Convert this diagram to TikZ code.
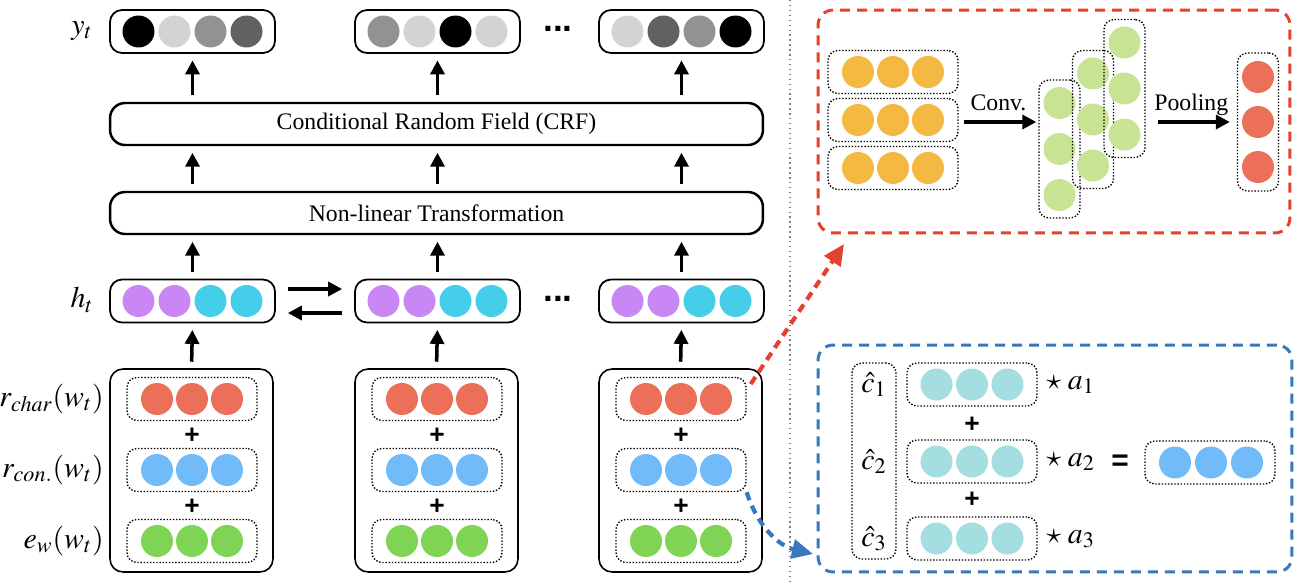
\documentclass[tikz,border=0pt]{standalone}
\usepackage{mathptmx}
\usepackage{fontspec}
\setmainfont{Liberation Serif}
\newfontfamily\plusfont{Liberation Sans}
\usetikzlibrary{arrows.meta,calc,positioning}

\definecolor{outDark}{HTML}{616161}
\definecolor{outMid}{HTML}{929292}
\definecolor{outLight}{HTML}{D3D3D3}
\definecolor{hidFwd}{HTML}{C987F5}
\definecolor{hidBwd}{HTML}{45CEEA}
\definecolor{charRed}{HTML}{EC6F5A}
\definecolor{conBlue}{HTML}{70BBF8}
\definecolor{embGreen}{HTML}{80D455}
\definecolor{convIn}{HTML}{F4B942}
\definecolor{convOut}{HTML}{C8E394}
\definecolor{ctxTeal}{HTML}{A4DEE0}
\definecolor{linkRed}{HTML}{E4412F}
\definecolor{linkBlue}{HTML}{3A77BC}

\tikzset{
  neuron/.style={circle,minimum size=0.64cm,inner sep=0pt},
  vecbox/.style={draw,line width=1pt,rounded corners=0.24cm,minimum width=3.3cm,minimum height=0.86cm,inner sep=0pt},
  layerbox/.style={draw,line width=1.4pt,rounded corners=0.3cm,minimum width=13.06cm,minimum height=0.84cm,inner sep=0pt,font=\fontsize{13.5}{16}\selectfont},
  inbox/.style={draw,line width=0.9pt,rounded corners=0.26cm,minimum width=3.26cm,minimum height=4.06cm,inner sep=0pt},
  rowbox/.style={draw,densely dotted,line width=0.8pt,rounded corners=0.2cm,minimum width=2.6cm,minimum height=0.86cm,inner sep=0pt},
  colbox/.style={rowbox,minimum width=0.82cm,minimum height=2.76cm},
  lbl/.style={inner sep=0pt,font=\fontsize{17}{20}\selectfont},
  txt/.style={inner sep=0pt,text depth=0pt,font=\fontsize{13.5}{16}\selectfont},
  plussign/.style={inner sep=0pt,font=\plusfont\bfseries\fontsize{15}{15}\selectfont},
  dotsign/.style={inner sep=0pt,font=\plusfont\bfseries\fontsize{20}{20}\selectfont},
  uparrow/.style={-{Triangle[length=0.28cm,width=0.28cm]},line width=2pt,shorten <=0.13cm,shorten >=0.13cm},
  flowarrow/.style={-{Triangle[length=0.28cm,width=0.28cm]},line width=2pt},
  dashbox/.style={draw,line width=1.7pt,dash pattern=on 0.2cm off 0.14cm,rounded corners=0.3cm,inner sep=0pt},
  linkarrow/.style={-{Triangle[length=0.42cm,width=0.38cm]},line width=2.4pt,dash pattern=on 0.17cm off 0.12cm},
}

\begin{document}
\begin{tikzpicture}[x=0.02cm,y=-0.02cm]
\useasboundingbox (0,0) rectangle (1301,585);

% left panel: one column per word
\foreach \c/\dx/\ca/\cb/\cc/\cd in {1/0/black/outLight/outMid/outDark,2/245/outMid/outLight/black/outLight,3/489/outLight/outDark/outMid/black}{
  \node[vecbox] (y\c) at (192.5+\dx,31.5) {};
  \foreach \i/\col in {1/\ca,2/\cb,3/\cc,4/\cd}
    \node[neuron,fill=\col] (y\c-\i) at ($(y\c)+(-90+36*\i,0)$) {};
  \node[vecbox] (h\c) at (192.5+\dx,301) {};
  \foreach \i/\col in {1/hidFwd,2/hidFwd,3/hidBwd,4/hidBwd}
    \node[neuron,fill=\col] (h\c-\i) at ($(h\c)+(-90+36*\i,0)$) {};
  \node[inbox] (in\c) at (191.5+\dx,470.5) {};
  \node[rowbox] (char\c) at (192+\dx,399) {};
  \node[rowbox] (con\c) at (192+\dx,470) {};
  \node[rowbox] (emb\c) at (192+\dx,541) {};
  \foreach \i in {1,2,3}{
    \node[neuron,fill=charRed] (char\c-\i) at ($(char\c)+(-70+35*\i,0)$) {};
    \node[neuron,fill=conBlue] (con\c-\i) at ($(con\c)+(-70+35*\i,0)$) {};
    \node[neuron,fill=embGreen] (emb\c-\i) at ($(emb\c)+(-70+35*\i,0)$) {};
  }
  \node[plussign] (pa\c) at (192+\dx,436) {+};
  \node[plussign] (pb\c) at (192+\dx,507) {+};
}

\node[layerbox] (crf) at (436.5,124) {Conditional Random Field (CRF)};
\node[layerbox] (nlt) at (436.5,213) {Non-linear Transformation};

\foreach \c in {1,2,3}{
  \draw[uparrow] (y\c.south |- crf.north) -- (y\c.south);
  \draw[uparrow] (y\c.south |- nlt.north) -- (y\c.south |- crf.south);
  \draw[uparrow] (h\c.north) -- (h\c.north |- nlt.south);
  \draw[uparrow] (in\c.north) -- (h\c.south);
}

% bidirectional recurrence
\draw[flowarrow,shorten <=0.24cm,shorten >=0.24cm] ($(h1.east)+(0,-12)$) -- ($(h2.west)+(0,-12)$);
\draw[flowarrow,shorten <=0.24cm,shorten >=0.24cm] ($(h2.west)+(0,12)$) -- ($(h1.east)+(0,12)$);

\node[dotsign] (dotsY) at (558,29) {...};
\node[dotsign] (dotsH) at (558,299) {...};

\node[lbl] (ylab) at (82,31) {$y_t$};
\node[lbl] (hlab) at (82,300) {$h_t$};
\node[lbl,anchor=east] (charlab) at (104,399) {$r_{char}(w_t)$};
\node[lbl,anchor=east] (conlab) at (104,470) {$r_{con.}(w_t)$};
\node[lbl,anchor=east] (emblab) at (104,541) {$e_w(w_t)$};

\draw[gray,dotted,line width=0.8pt] (790,0) -- (790,585);

% character CNN
\node[dashbox,draw=linkRed,minimum width=9.44cm,minimum height=4.46cm] (cnn) at (1054,121.5) {};
\foreach \r/\yy in {1/72,2/120,3/168}{
  \node[rowbox] (chv\r) at (893,\yy) {};
  \foreach \i in {1,2,3}
    \node[neuron,fill=convIn] (chv\r-\i) at ($(chv\r)+(-70+35*\i,0)$) {};
}
\foreach \k/\xx/\yy in {A/1059.5/149,B/1093/119.5,C/1124.5/88.5}{
  \node[colbox] (fm\k) at (\xx,\yy) {};
  \foreach \i in {1,2,3}
    \node[neuron,fill=convOut] (fm\k-\i) at ($(fm\k)+(0,-92+46*\i)$) {};
}
\node[colbox] (pool) at (1258,122) {};
\foreach \i in {1,2,3}
  \node[neuron,fill=charRed] (pool-\i) at ($(pool)+(0,-90+45*\i)$) {};
\draw[flowarrow,shorten <=0.1cm,shorten >=0.04cm] (chv2.east |- pool.west) -- (fmA.west |- pool.west)
  node[txt,midway,above=0.2cm] (convlab) {Conv.};
\draw[flowarrow,shorten <=0.24cm,shorten >=0.14cm] (fmC.east |- pool.west) -- (pool.west)
  node[txt,midway,above=0.2cm] (poollab) {Pooling};

% context attention
\node[dashbox,draw=linkBlue,minimum width=9.48cm,minimum height=4.54cm] (att) at (1055,458.5) {};
\node[colbox,minimum width=0.88cm,minimum height=3.92cm] (chat) at (874,461) {};
\foreach \r/\yy in {1/384.5,2/461.5,3/538.5}{
  \node[lbl] (chat\r) at (874,\yy) {$\hat{c}_\r$};
  \node[rowbox] (ctx\r) at (972,\yy) {};
  \foreach \i in {1,2,3}
    \node[neuron,fill=ctxTeal] (ctx\r-\i) at ($(ctx\r)+(-71+35.5*\i,0)$) {};
  \node[lbl,anchor=west] (wt\r) at (1046,\yy) {$\star\;a_\r$};
}
\node[plussign] (pc1) at (972,425) {+};
\node[plussign] (pc2) at (972,500) {+};
\node[plussign,font=\plusfont\bfseries\fontsize{17}{17}\selectfont] (eq) at (1120,463) {=};
\node[rowbox] (res) at (1210,462.5) {};
\foreach \i in {1,2,3}
  \node[neuron,fill=conBlue] (res-\i) at ($(res)+(-71+36*\i,0)$) {};

% links to the detail panels
\coordinate (redtip) at (844,244);
\coordinate (bluetip) at (813,554);
\draw[linkarrow,linkRed] ($(char3.east)+(4,-15)$) -- (redtip);
\draw[linkarrow,linkBlue] (con3.south east) .. controls (758,528) and (780,546) .. (bluetip);

\end{tikzpicture}
\end{document}
